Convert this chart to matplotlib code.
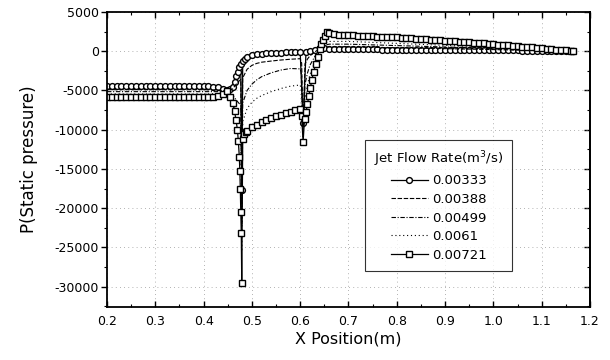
import matplotlib
matplotlib.use('Agg')
import matplotlib.pyplot as plt
from matplotlib.ticker import MultipleLocator

plt.rcParams['font.family'] = ['DejaVu Sans']
plt.rcParams['axes.unicode_minus'] = False

# Jet flow rate 0.00333 m3/s (circles)
x_333 = [0.20, 0.21, 0.22, 0.23, 0.24, 0.25, 0.26, 0.27, 0.28, 0.29, 0.30, 0.31,
         0.32, 0.33, 0.34, 0.35, 0.36, 0.37, 0.38, 0.39, 0.40, 0.41, 0.42,
         0.43, 0.44, 0.448, 0.455, 0.46, 0.464, 0.468, 0.471, 0.474, 0.477,
         0.479, 0.481, 0.485, 0.49, 0.50, 0.51, 0.52, 0.53, 0.54, 0.55, 0.56,
         0.57, 0.58, 0.59, 0.60, 0.606, 0.612, 0.62, 0.63, 0.64, 0.65, 0.66,
         0.67, 0.68, 0.69, 0.70, 0.71, 0.72, 0.73, 0.74, 0.75, 0.76, 0.77,
         0.78, 0.79, 0.80, 0.81, 0.82, 0.83, 0.84, 0.85, 0.86, 0.87, 0.88,
         0.89, 0.90, 0.91, 0.92, 0.93, 0.94, 0.95, 0.96, 0.97, 0.98, 0.99,
         1.00, 1.01, 1.02, 1.03, 1.04, 1.05, 1.06, 1.07, 1.08, 1.09, 1.10,
         1.11, 1.12, 1.13, 1.14, 1.15, 1.16, 1.165]
p_333 = [-4450, -4450, -4450, -4450, -4450, -4450, -4450, -4450, -4450, -4450,
         -4450, -4450, -4450, -4450, -4450, -4450, -4450, -4450, -4450, -4450,
         -4460, -4480, -4500,
         -4550, -4800, -5000, -4850, -4500, -3900, -3200, -2600, -2000, -1600,
         -17700, -1300, -1000, -750, -500, -380, -320, -270, -230, -200, -180,
         -160, -140, -120, -100, -9200, -100, 50, 200, 300, 350, 330,
         310, 290, 270, 250, 245, 240, 235, 230, 225, 222, 219,
         216, 213, 210, 207, 204, 201, 198, 195, 192, 189, 186,
         183, 180, 176, 172, 168, 164, 160, 156, 152, 148, 144,
         140, 132, 124, 116, 108, 100, 92, 84, 76, 68, 60,
         52, 44, 36, 28, 20, 10, 0]

# Jet flow rate 0.00721 m3/s (squares)
x_721 = [0.20, 0.21, 0.22, 0.23, 0.24, 0.25, 0.26, 0.27, 0.28, 0.29, 0.30, 0.31,
         0.32, 0.33, 0.34, 0.35, 0.36, 0.37, 0.38, 0.39, 0.40, 0.41, 0.42,
         0.43, 0.44, 0.448, 0.455, 0.46, 0.464, 0.467, 0.47, 0.472, 0.474,
         0.475, 0.476, 0.477, 0.478, 0.479, 0.481, 0.484, 0.488, 0.49, 0.50,
         0.51, 0.52, 0.53, 0.54, 0.55, 0.56, 0.57, 0.58, 0.59, 0.60, 0.603,
         0.606, 0.609, 0.612, 0.615, 0.618, 0.621, 0.624, 0.628, 0.632, 0.636,
         0.640, 0.644, 0.648, 0.652, 0.656, 0.66, 0.67, 0.68, 0.69, 0.70,
         0.71, 0.72, 0.73, 0.74, 0.75, 0.76, 0.77, 0.78, 0.79, 0.80, 0.81,
         0.82, 0.83, 0.84, 0.85, 0.86, 0.87, 0.88, 0.89, 0.90, 0.91, 0.92,
         0.93, 0.94, 0.95, 0.96, 0.97, 0.98, 0.99, 1.00, 1.01, 1.02, 1.03,
         1.04, 1.05, 1.06, 1.07, 1.08, 1.09, 1.10, 1.11, 1.12, 1.13, 1.14,
         1.15, 1.16, 1.165]
p_721 = [-5860, -5860, -5860, -5860, -5860, -5860, -5860, -5860, -5860, -5860,
         -5860, -5860, -5860, -5860, -5860, -5860, -5860, -5860, -5860, -5850,
         -5840, -5820, -5800,
         -5750, -5500, -5100, -5800, -6600, -7600, -8700, -10000, -11500, -13500,
         -15200, -17500, -20500, -23100, -29500, -11200, -10600, -10300, -10150,
         -9700, -9350, -9050, -8800, -8550, -8300, -8100, -7900, -7700, -7500,
         -7350, -8200, -11600, -8600, -7800, -6700, -5700, -4700, -3700, -2600,
         -1600, -700, 300, 900, 1400, 1900, 2450, 2300, 2180, 2120, 2080, 2050,
         2020, 1990, 1960, 1930, 1900, 1870, 1840, 1810, 1780, 1750, 1710,
         1670, 1630, 1590, 1550, 1510, 1470, 1430, 1390, 1350, 1305, 1260,
         1215, 1170, 1125, 1080, 1035, 990, 945, 900, 850, 800, 745,
         695, 640, 590, 535, 485, 430, 380, 325, 270, 215, 160,
         105, 40, 0]

# line-only series share one coarser grid
x_line = [0.20, 0.25, 0.30, 0.35, 0.40, 0.43, 0.44, 0.45, 0.46, 0.47, 0.477,
          0.479, 0.481, 0.49, 0.50, 0.51, 0.52, 0.54, 0.56, 0.58, 0.60, 0.603,
          0.606, 0.61, 0.615, 0.62, 0.63, 0.64, 0.65, 0.66, 0.70, 0.80, 0.90,
          1.00, 1.10, 1.165]
p_388 = [-4900, -4900, -4900, -4900, -4900, -4950, -5050, -5100, -4800, -4000,
         -3600, -19500, -3400, -2300, -1800, -1550, -1400, -1250, -1120, -1020,
         -950, -1500, -9800, -1600, -1000, -600, -100, 300, 500, 560, 550, 440,
         330, 210, 80, 0]
p_499 = [-5150, -5150, -5150, -5150, -5150, -5150, -5150, -5200, -5600, -6400,
         -6900, -22000, -6600, -5000, -4200, -3650, -3250, -2750, -2400, -2200,
         -2250, -3000, -10500, -4200, -2800, -1800, -700, 200, 750, 900, 900,
         720, 540, 350, 140, 0]
p_610 = [-5450, -5450, -5450, -5450, -5450, -5400, -5300, -5300, -6300, -8200,
         -9400, -25500, -9000, -7300, -6500, -6000, -5650, -5150, -4750, -4450,
         -4300, -5200, -11000, -6000, -4300, -3000, -1400, 0, 900, 1250, 1250,
         1000, 750, 480, 190, 0]

labels = ['0.00333', '0.00388', '0.00499', '0.0061', '0.00721']

fig = plt.figure(figsize=(6.1, 3.6), dpi=100)
ax = fig.add_axes([0.1754, 0.147, 0.7918, 0.8197])

ax.plot(x_333, p_333, color='black', lw=0.9, marker='o', ms=4.2,
        mfc='white', mec='black', mew=1.0, label=labels[0])
ax.plot(x_line, p_388, color='black', lw=0.8, ls=(0, (4, 1.5)), label=labels[1])
ax.plot(x_line, p_499, color='black', lw=0.8, ls=(0, (4, 1.5, 1, 1.5)), label=labels[2])
ax.plot(x_line, p_610, color='black', lw=0.8, ls=(0, (1, 2.5)), label=labels[3])
ax.plot(x_721, p_721, color='black', lw=0.9, marker='s', ms=4.2,
        mfc='white', mec='black', mew=1.0, label=labels[4])

ax.set_xlim(0.2, 1.2)
ax.set_ylim(-32600, 5000)
ax.xaxis.set_major_locator(MultipleLocator(0.1))
ax.xaxis.set_minor_locator(MultipleLocator(0.05))
ax.yaxis.set_major_locator(MultipleLocator(5000))
ax.yaxis.set_minor_locator(MultipleLocator(2500))
ax.set_xticks([0.2, 0.3, 0.4, 0.5, 0.6, 0.7, 0.8, 0.9, 1.0, 1.1, 1.2])
ax.set_xticklabels(['0.2', '0.3', '0.4', '0.5', '0.6', '0.7', '0.8', '0.9',
                    '1.0', '1.1', '1.2'])

ax.tick_params(axis='x', which='both', direction='in', top=True, labelsize=9, pad=6)
ax.tick_params(axis='y', which='both', direction='out', labelsize=9, pad=2)
ax.tick_params(which='major', length=4, width=1)
ax.tick_params(which='minor', length=2.5, width=0.8)
ax.tick_params(axis='y', which='both', right=False)
ax2 = ax.secondary_yaxis('right')
ax2.yaxis.set_major_locator(MultipleLocator(5000))
ax2.yaxis.set_minor_locator(MultipleLocator(2500))
ax2.tick_params(which='both', direction='in', labelright=False)
ax2.tick_params(which='major', length=4, width=1)
ax2.tick_params(which='minor', length=2.5, width=0.8)

for s in ax.spines.values():
    s.set_linewidth(1.3)
ax2.spines['right'].set_linewidth(1.3)

ax.grid(True, which='major', color='#999999', lw=0.6, ls=(0, (1, 4)))

ax.set_xlabel('X Position(m)', fontsize=11.5, labelpad=2)
ax.set_ylabel('P(Static pressure)', fontsize=12, labelpad=12)

leg = ax.legend(loc='upper left', bbox_to_anchor=(0.534, 0.566), borderaxespad=0,
                title='Jet Flow Rate(m$^3$/s)', fontsize=9.5, title_fontsize=9.5,
                frameon=True, fancybox=False, edgecolor='black',
                handlelength=2.8, handletextpad=0.3, labelspacing=0.42,
                borderpad=0.7)
leg.get_frame().set_linewidth(0.8)
leg._legend_box.align = 'center'

fig.savefig('out.png', dpi=100)
